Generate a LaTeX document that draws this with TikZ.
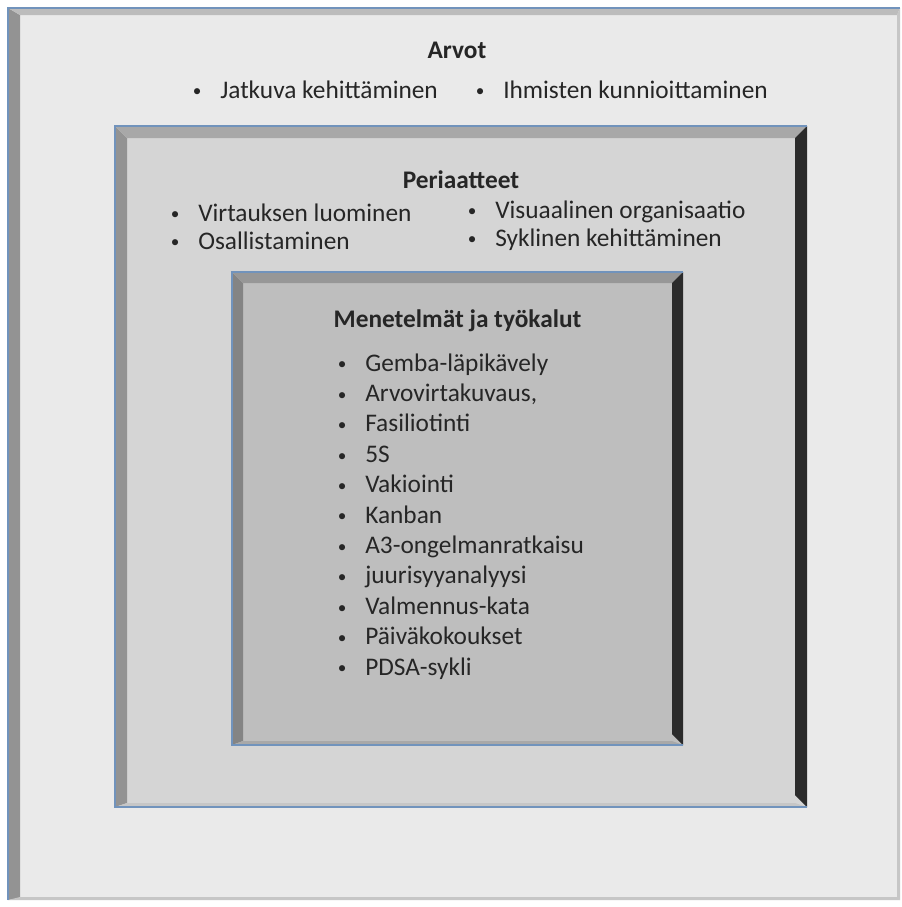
\documentclass[tikz,border=0pt]{standalone}
\usepackage{fontspec}
\setmainfont{Carlito}
\definecolor{OuterFace}{HTML}{EAEAEA}
\definecolor{MidFace}{HTML}{D5D5D5}
\definecolor{InnerFace}{HTML}{BEBEBE}
\definecolor{BevelSide}{HTML}{939393}
\definecolor{BevelTop}{HTML}{A8A8A8}
\definecolor{BevelDark}{HTML}{2B2B2B}
\definecolor{BevelLow}{HTML}{C6C6C6}
\definecolor{EdgeBlue}{HTML}{7193BC}
\definecolor{TextDark}{HTML}{262626}
\usetikzlibrary{positioning}
\newcommand{\bul}{\makebox[21.75pt][l]{\hspace{1.2pt}\raisebox{0.9pt}{\scalebox{0.68}{\textbullet}}}}

\begin{document}
\begin{tikzpicture}[x=0.75pt, y=-0.75pt,
	otsikko/.style={font=\fontsize{19}{22}\selectfont\bfseries, text=TextDark,
		inner sep=0pt, anchor=base},
	kohta/.style={font=\fontsize{19}{22}\selectfont, text=TextDark,
		inner sep=0pt, anchor=base west},
	reuna/.style={draw=EdgeBlue, line width=1.2pt}]

	\fill[white] (0,0) rectangle (901,907);
	\useasboundingbox (0,0) rectangle (901,907);

	% Arvot
	\fill[OuterFace] (8,8) rectangle (900,900);
	\fill[BevelSide] (8,8) -- (20,15) -- (20,898) -- (8,900) -- cycle;
	\fill[BevelTop!70!OuterFace] (8,8) -- (900,8) -- (897,15) -- (20,15) -- cycle;
	\fill[BevelLow] (900,8) -- (900,900) -- (897,898) -- (897,15) -- cycle;
	\fill[BevelLow] (8,900) -- (900,900) -- (897,897) -- (20,897) -- cycle;
	\draw[reuna] (8,900) -- (8,8) -- (900,8);

	% Periaatteet
	\fill[MidFace] (115,126) rectangle (807,807);
	\fill[BevelSide] (115,126) -- (127,138) -- (127,803) -- (115,807) -- cycle;
	\fill[BevelTop] (115,126) -- (807,126) -- (795,138) -- (127,138) -- cycle;
	\fill[BevelLow] (127,803) -- (795,803) -- (807,807) -- (115,807) -- cycle;
	\fill[BevelDark] (807,126) -- (807,807) -- (795,795) -- (795,138) -- cycle;
	\draw[reuna] (807,807) -- (115,807) -- (115,126) -- (807,126);

	% Menetelmat
	\fill[InnerFace] (232,272) rectangle (683,745);
	\fill[BevelSide!90!black] (232,272) -- (243,283) -- (243,741) -- (232,745) -- cycle;
	\fill[BevelTop!90!black] (232,272) -- (683,272) -- (672,283) -- (243,283) -- cycle;
	\fill[BevelLow!85!black] (243,741) -- (672,741) -- (683,745) -- (232,745) -- cycle;
	\fill[BevelDark] (683,272) -- (683,745) -- (672,734) -- (672,283) -- cycle;
	\draw[reuna] (683,745) -- (232,745) -- (232,272) -- (683,272);

	\node[otsikko] (arvot) at (457,58) {Arvot};
	\node[kohta] (a1) at (191,98) {\bul Jatkuva kehittäminen};
	\node[kohta] (a2) at (474,98) {\bul Ihmisten kunnioittaminen};

	\node[otsikko] (periaatteet) at (461,188) {Periaatteet};
	\node[kohta] (p1) at (169,221) {\bul Virtauksen luominen};
	\node[kohta] (p2) at (169,249) {\bul Osallistaminen};
	\node[kohta] (p3) at (466,218) {\bul Visuaalinen organisaatio};
	\node[kohta] (p4) at (466,246) {\bul Syklinen kehittäminen};

	\node[otsikko] (menetelmat) at (457.5,327) {Menetelmät ja työkalut};
	\foreach \teksti [count=\i] in {Gemba-läpikävely, {Arvovirtakuvaus,}, Fasiliotinti, 5S,
		Vakiointi, Kanban, A3-ongelmanratkaisu, juurisyyanalyysi, Valmennus-kata,
		Päiväkokoukset, PDSA-sykli}
		\node[kohta] (m\i) at (336,340.6+30.4*\i) {\bul \teksti};
\end{tikzpicture}
\end{document}
